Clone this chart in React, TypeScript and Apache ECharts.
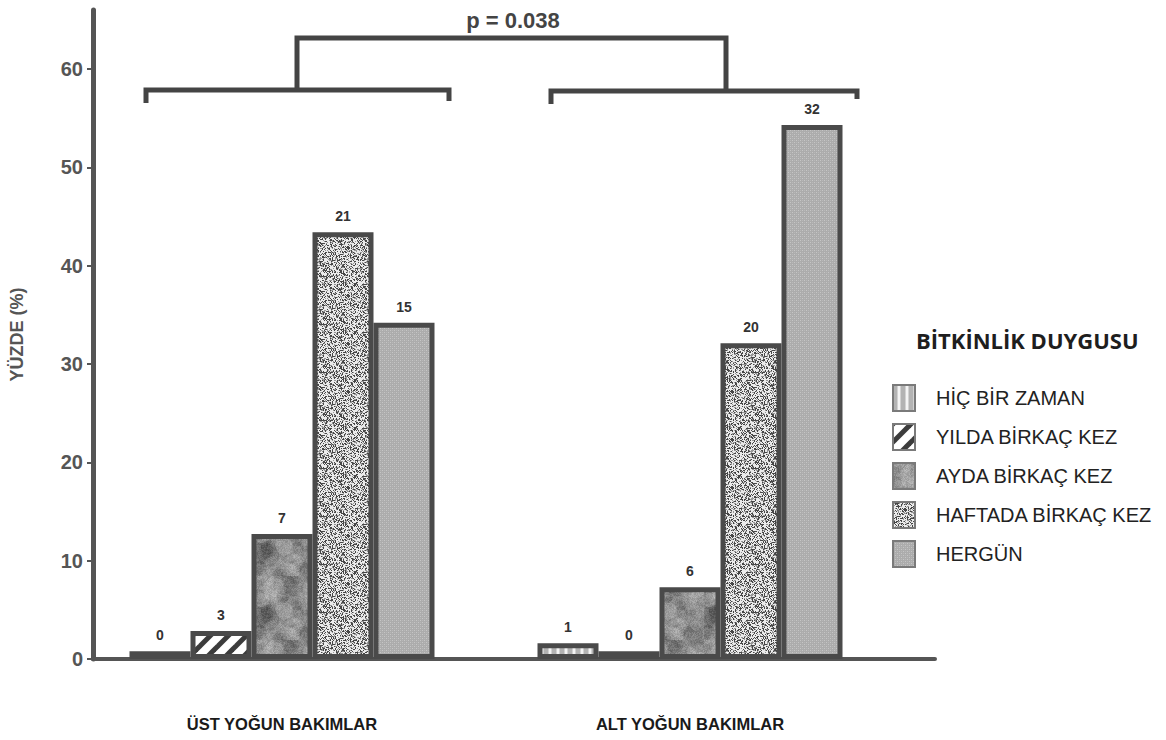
import React, { useEffect, useRef } from 'react';
import * as echarts from 'echarts';

// ---- data ----
const categories = ['ÜST YOĞUN BAKIMLAR', 'ALT YOĞUN BAKIMLAR'];
const seriesNames = ['HİÇ BİR ZAMAN', 'YILDA BİRKAÇ KEZ', 'AYDA BİRKAÇ KEZ', 'HAFTADA BİRKAÇ KEZ', 'HERGÜN'];
// percentages (bar heights)
const hicBirZamanPct = [0.8, 1.6];
const yildaBirkacPct = [2.85, 0.8];
const aydaBirkacPct = [12.7, 7.3];
const haftadaBirkacPct = [43.4, 32.1];
const hergunPct = [34.2, 54.3];
// counts (labels on top of the bars)
const hicBirZamanN = [0, 1];
const yildaBirkacN = [3, 0];
const aydaBirkacN = [7, 6];
const haftadaBirkacN = [21, 20];
const hergunN = [15, 32];
const yTickValues = [0, 10, 20, 30, 40, 50, 60];
const yMax = 66;
const pValueText = 'p = 0.038';
const legendTitle = 'BİTKİNLİK DUYGUSU';
const yAxisName = 'YÜZDE (%)';

function lcg(seed: number) {
  let s = seed >>> 0;
  return () => {
    s = (Math.imul(s, 1664525) + 1013904223) >>> 0;
    return s / 4294967296;
  };
}

function makePattern(w: number, h: number, draw: (ctx: CanvasRenderingContext2D, w: number, h: number) => void) {
  const c = document.createElement('canvas');
  c.width = w;
  c.height = h;
  const ctx = c.getContext('2d') as CanvasRenderingContext2D;
  draw(ctx, w, h);
  return { image: c, repeat: 'repeat', imageWidth: w, imageHeight: h } as any;
}

function buildPatterns() {
  const stripes = makePattern(8, 8, (ctx, w, h) => {
    ctx.fillStyle = '#f4f4f4';
    ctx.fillRect(0, 0, w, h);
    ctx.fillStyle = '#b3b3b3';
    ctx.fillRect(0, 0, 4, h);
    ctx.fillStyle = '#d2d2d2';
    ctx.fillRect(4, 0, 1, h);
    ctx.fillRect(7, 0, 1, h);
  });
  const hatch = makePattern(18, 18, (ctx, w, h) => {
    ctx.fillStyle = '#ffffff';
    ctx.fillRect(0, 0, w, h);
    ctx.strokeStyle = '#3c3c3c';
    ctx.lineWidth = 5;
    for (const off of [-18, 0, 18]) {
      ctx.beginPath();
      ctx.moveTo(off - 2, h + 2);
      ctx.lineTo(off + w + 2, -2);
      ctx.stroke();
    }
  });
  const mottled = makePattern(64, 64, (ctx, w, h) => {
    ctx.fillStyle = '#8a8a8a';
    ctx.fillRect(0, 0, w, h);
    const r = lcg(7);
    for (let i = 0; i < 60; i++) {
      const x = r() * w;
      const y = r() * h;
      const rad = 3 + r() * 9;
      ctx.fillStyle = r() > 0.5 ? 'rgba(255,255,255,0.10)' : 'rgba(0,0,0,0.10)';
      ctx.beginPath();
      ctx.arc(x, y, rad, 0, Math.PI * 2);
      ctx.fill();
    }
    const img = ctx.getImageData(0, 0, w, h);
    for (let i = 0; i < img.data.length; i += 4) {
      const d = (r() - 0.5) * 30;
      img.data[i] = Math.max(0, Math.min(255, img.data[i] + d));
      img.data[i + 1] = Math.max(0, Math.min(255, img.data[i + 1] + d));
      img.data[i + 2] = Math.max(0, Math.min(255, img.data[i + 2] + d));
    }
    ctx.putImageData(img, 0, 0);
  });
  const speckle = makePattern(48, 48, (ctx, w, h) => {
    const img = ctx.createImageData(w, h);
    const r = lcg(42);
    for (let i = 0; i < img.data.length; i += 4) {
      const t = r();
      const v = t < 0.3 ? 70 : t < 0.48 ? 150 : 235;
      img.data[i] = v;
      img.data[i + 1] = v;
      img.data[i + 2] = v;
      img.data[i + 3] = 255;
    }
    ctx.putImageData(img, 0, 0);
  });
  const fineGrid = makePattern(4, 4, (ctx, w, h) => {
    ctx.fillStyle = '#acacac';
    ctx.fillRect(0, 0, w, h);
    ctx.fillStyle = '#c6c6c6';
    ctx.fillRect(0, 0, 1, 1);
    ctx.fillRect(2, 2, 1, 1);
    ctx.fillStyle = '#b8b8b8';
    ctx.fillRect(2, 0, 1, 1);
    ctx.fillRect(0, 2, 1, 1);
  });
  return [stripes, hatch, mottled, speckle, fineGrid];
}

export default function App() {
  const ref = useRef<HTMLDivElement>(null);

  useEffect(() => {
    if (!ref.current) return;
    const chart = echarts.init(ref.current, undefined, { renderer: 'svg' });
    const patterns = buildPatterns();
    const pctData = [hicBirZamanPct, yildaBirkacPct, aydaBirkacPct, haftadaBirkacPct, hergunPct];
    const countData = [hicBirZamanN, yildaBirkacN, aydaBirkacN, haftadaBirkacN, hergunN];

    const gridTop = 10;
    const gridBottomY = 659;
    const gridHeight = gridBottomY - gridTop;

    const series: any[] = seriesNames.map((name, i) => ({
      name,
      type: 'bar',
      xAxisIndex: 0,
      yAxisIndex: 0,
      barWidth: 61,
      barGap: '0%',
      data: pctData[i],
      itemStyle: {
        color: patterns[i],
        borderColor: '#4a4a4a',
        borderWidth: 5,
      },
      label: {
        show: true,
        position: 'top',
        distance: 9,
        color: '#333',
        fontFamily: 'Liberation Sans, Arial, sans-serif',
        fontWeight: 'bold',
        fontSize: 14,
        formatter: (p: any) => String(countData[i][p.dataIndex]),
      },
    }));

    const lineStyle = { stroke: '#444', lineWidth: 5, fill: 'none' };

    chart.setOption({
      animation: false,
      backgroundColor: '#ffffff',
      title: {
        text: legendTitle,
        left: 911,
        top: 324,
        textStyle: {
          fontFamily: 'Open Sans, sans-serif',
          fontWeight: 'bold',
          fontSize: 22,
          color: '#1e1e1e',
        },
      },
      legend: {
        orient: 'vertical',
        left: 887,
        top: 379,
        icon: 'rect',
        itemWidth: 22,
        itemHeight: 26,
        itemGap: 11,
        selectedMode: false,
        data: seriesNames,
        itemStyle: { borderColor: '#7a7a7a', borderWidth: 2 },
        textStyle: {
          fontFamily: 'Liberation Sans, Arial, sans-serif',
          fontSize: 20,
          color: '#222',
          padding: [0, 0, 0, 16],
        },
      },
      grid: [
        { left: 78, top: gridTop, width: 816, height: gridHeight },
        { left: 93, top: gridTop, width: 842, height: gridHeight },
      ],
      xAxis: [
        {
          type: 'category',
          gridIndex: 0,
          data: categories,
          axisLine: { show: false },
          axisTick: { show: false },
          axisLabel: {
            margin: 56,
            color: '#1a1a1a',
            fontFamily: 'Liberation Sans, Arial, sans-serif',
            fontWeight: 'bold',
            fontSize: 16.5,
          },
        },
        {
          type: 'value',
          gridIndex: 1,
          min: 0,
          max: 1,
          axisLine: { show: true, lineStyle: { color: '#555', width: 4 } },
          axisTick: { show: false },
          axisLabel: { show: false },
          splitLine: { show: false },
        },
      ],
      yAxis: [
        {
          type: 'value',
          gridIndex: 0,
          min: 0,
          max: yMax,
          show: false,
          splitLine: { show: false },
        },
        {
          type: 'value',
          gridIndex: 1,
          min: 0,
          max: yMax,
          name: yAxisName,
          nameLocation: 'middle',
          nameRotate: 90,
          nameGap: 67,
          nameTextStyle: {
            color: '#555',
            fontFamily: 'Liberation Sans, Arial, sans-serif',
            fontWeight: 'bold',
            fontSize: 18,
          },
          axisLine: { show: true, lineStyle: { color: '#555', width: 5 } },
          axisTick: {
            show: true,
            length: 6,
            customValues: yTickValues,
            lineStyle: { color: '#555', width: 2 },
          },
          axisLabel: {
            customValues: yTickValues,
            margin: 10,
            color: '#555',
            fontFamily: 'Liberation Sans, Arial, sans-serif',
            fontWeight: 'bold',
            fontSize: 20,
          },
          splitLine: { show: false },
        },
      ],
      series,
      graphic: [
        { type: 'polyline', shape: { points: [[146, 103], [146, 90], [449, 90], [449, 101]] }, style: lineStyle, silent: true },
        { type: 'polyline', shape: { points: [[551, 104], [551, 91], [857, 91], [857, 99]] }, style: lineStyle, silent: true },
        { type: 'polyline', shape: { points: [[297, 90], [297, 38], [726, 38], [726, 90]] }, style: lineStyle, silent: true },
        {
          type: 'text',
          x: 513,
          y: 20,
          style: {
            text: pValueText,
            x: 0,
            y: 0,
            align: 'center',
            verticalAlign: 'middle',
            fill: '#444',
            font: 'bold 22px "Liberation Sans", Arial, sans-serif',
          },
        },
      ],
    });

    return () => chart.dispose();
  }, []);

  return (
    <div
      ref={ref}
      style={{ position: 'fixed', left: 0, top: 0, width: 1166, height: 740 }}
    />
  );
}
